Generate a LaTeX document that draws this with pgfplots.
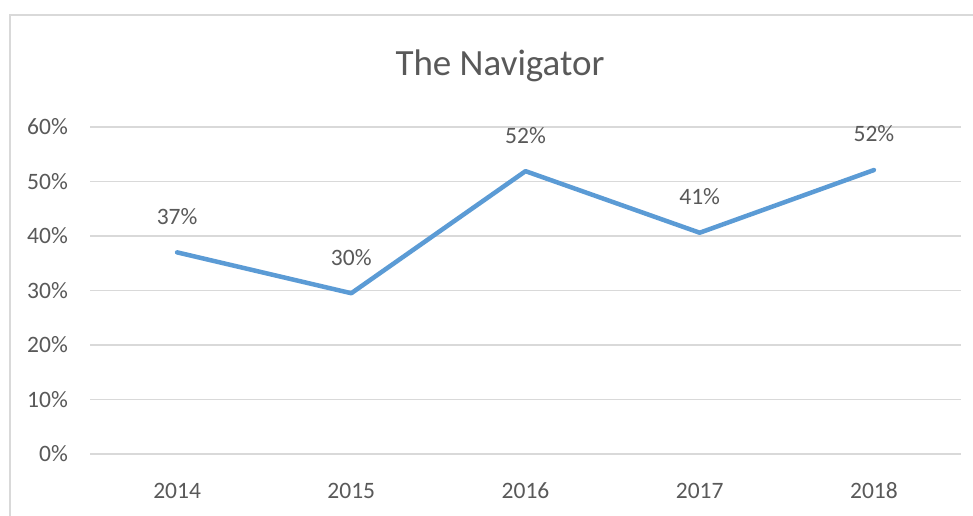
\documentclass[border=0pt]{standalone}
\usepackage{pgfplots}
\pgfplotsset{compat=1.18}
\usepackage{fontspec}
\setmainfont{Carlito}
\definecolor{txt}{HTML}{595959}
\definecolor{gridc}{HTML}{D9D9D9}
\definecolor{linec}{HTML}{5B9BD5}
\begin{document}
\begin{tikzpicture}[x=1pt,y=1pt]
\clip (0,0) rectangle (973,515);
\fill[white] (0,0) rectangle (973,515);
\draw[gridc, line width=2pt] (9.5,-20) -- (9.5,500) -- (1000,500);
\node[txt, font=\fontsize{37}{40}\selectfont] at (500,449) {The Navigator};
\begin{axis}[
  at={(90pt,61pt)}, anchor=south west,
  scale only axis, width=871pt, height=327pt,
  xmin=-0.5, xmax=4.5, ymin=0, ymax=60,
  xtick={0,1,2,3,4}, xticklabels={2014,2015,2016,2017,2018},
  ytick={0,10,20,30,40,50,60},
  yticklabel={\pgfmathprintnumber{\tick}\%},
  /pgf/number format/assume math mode=true,
  axis line style={draw=none},
  major tick length=0pt,
  ymajorgrids, grid style={gridc, line width=1.3pt},
  tick label style={txt, font=\fontsize{23.5}{26}\selectfont},
  yticklabel style={anchor=east, inner sep=0pt, xshift=-22pt},
  xticklabel style={anchor=center, inner sep=0pt, yshift=-37pt},
  clip=false,
]
\addplot[linec, line width=4.5pt, line join=round, line cap=round,
  nodes near coords={\pgfmathprintnumber[fixed,precision=0]{\pgfplotspointmeta}\%},
  every node near coord/.append style={txt, font=\fontsize{23.5}{26}\selectfont, anchor=center, inner sep=0pt, yshift=36pt},
] coordinates {(0,37) (1,29.5) (2,51.9) (3,40.6) (4,52.1)};
\end{axis}
\end{tikzpicture}
\end{document}
